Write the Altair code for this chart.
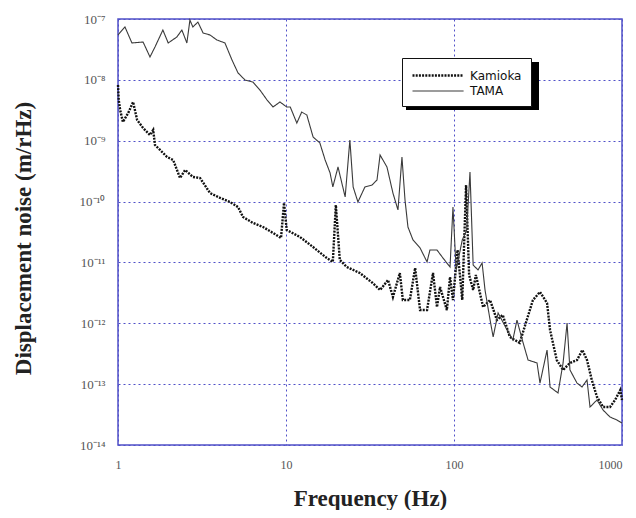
import altair as alt
import pandas as pd

# ---- data (frequency in Hz, displacement noise in m/rtHz) ----
tama_freq = [1.0, 1.10, 1.21, 1.41, 1.55, 1.66, 1.85, 1.99, 2.24, 2.40, 2.57, 2.68, 2.79, 2.99,
             3.21, 3.53, 3.88, 4.33, 4.77, 5.18, 5.70, 6.36, 7.00, 7.71, 8.37, 9.21, 10.1, 10.6,
             11.6, 12.4, 13.3, 14.5, 15.9, 17.1, 18.3, 19.0, 20.4, 22.5, 24.0, 25.1, 26.8, 29.5,
             32.5, 34.8, 36.3, 39.9, 43.3, 46.4, 49.0, 51.1, 53.2, 57.0, 62.8, 69.1, 71.9, 79.2,
             86.0, 94.7, 98.6, 103, 112, 119, 124.5, 130, 139, 147, 153, 164, 171, 183, 207, 224,
             237, 258, 276, 312, 325, 358, 373, 416, 446, 471, 490, 540, 578, 619, 645, 710, 771,
             849, 934, 1000]
tama_noise = [5.46e-8, 7.4e-8, 4.04e-8, 4.19e-8, 2.38e-8, 3.47e-8, 6.59e-8, 4.04e-8, 5.06e-8,
              6.59e-8, 4.04e-8, 9.6e-8, 7.4e-8, 8.9e-8, 5.89e-8, 5.46e-8, 4.52e-8, 4.04e-8,
              2.12e-8, 1.30e-8, 9.96e-9, 9.2e-9, 6.8e-9, 4.67e-9, 3.58e-9, 4.33e-9, 3.58e-9,
              3.58e-9, 1.95e-9, 2.96e-9, 2.65e-9, 1.15e-9, 9.2e-10, 4.82e-10, 2.95e-10, 1.74e-10,
              3.70e-10, 1.19e-10, 1.03e-9, 1.74e-10, 9.84e-11, 1.74e-10, 1.87e-10, 2.26e-10,
              5.82e-10, 3.70e-10, 1.38e-10, 7.28e-11, 5.40e-10, 1.06e-10, 3.82e-11, 2.34e-11,
              1.73e-11, 1.02e-11, 1.60e-11, 1.60e-11, 1.18e-11, 8.41e-12, 8.15e-11, 7.52e-12,
              2.34e-11, 3.41e-11, 3.06e-10, 9.08e-12, 7.52e-12, 9.8e-12, 3.52e-12, 1.13e-12,
              5.96e-13, 1.48e-12, 7.76e-13, 5.32e-13, 1.13e-12, 4.75e-13, 2.49e-13, 2.23e-13,
              1.04e-13, 3.64e-13, 8.98e-14, 7.16e-14, 2.23e-13, 1.01e-12, 1.71e-13, 1.04e-13,
              8.98e-14, 1.17e-13, 4.21e-14, 5.50e-14, 3.76e-14, 2.88e-14, 2.57e-14, 2.30e-14]

kamioka_freq = [1.0, 1.01, 1.03, 1.07, 1.15, 1.23, 1.30, 1.41, 1.55, 1.62, 1.66, 1.78, 1.96,
                2.13, 2.34, 2.51, 2.79, 3.08, 3.53, 4.05, 4.64, 5.18, 5.55, 6.36, 7.30, 8.37,
                9.34, 9.73, 10.1, 12.1, 14.5, 17.5, 19.0, 19.8, 20.9, 23.0, 27.5, 32.8, 36.3,
                40.5, 43.3, 47.6, 49.6, 54.6, 58.7, 62.8, 69.1, 75.0, 79.2, 82.6, 90.7, 94.7,
                98.6, 105, 112, 118, 123, 130, 135, 149, 164, 180, 195, 215, 246, 271, 295, 325,
                358, 373, 409, 446, 490, 540, 581, 619, 661, 710, 771, 849, 910, 977, 1000]
kamioka_noise = [8.24e-9, 4.67e-9, 3.20e-9, 2.03e-9, 2.85e-9, 4.33e-9, 2.19e-9, 1.62e-9,
                 1.24e-9, 1.50e-9, 8.5e-10, 7.05e-10, 5.40e-10, 4.82e-10, 2.44e-10, 3.30e-10,
                 2.54e-10, 2.44e-10, 1.38e-10, 1.15e-10, 9.84e-11, 8.15e-11, 5.58e-11, 4.45e-11,
                 3.82e-11, 3.05e-11, 2.52e-11, 9.5e-11, 3.41e-11, 2.62e-11, 1.79e-11, 1.18e-11,
                 1.02e-11, 8.8e-11, 1.10e-11, 8.41e-12, 6.70e-12, 4.59e-12, 3.52e-12, 5.14e-12,
                 2.70e-12, 6.70e-12, 2.41e-12, 2.41e-12, 8.1e-12, 1.65e-12, 1.65e-12, 6.70e-12,
                 1.85e-12, 3.94e-12, 1.65e-12, 5.77e-12, 2.41e-12, 1.60e-11, 2.41e-12, 1.87e-10,
                 6.22e-12, 3.52e-12, 6.22e-12, 1.85e-12, 2.41e-12, 1.13e-12, 1.37e-12, 5.96e-13,
                 4.75e-13, 1.13e-12, 2.41e-12, 3.27e-12, 2.15e-12, 7.76e-13, 2.49e-13, 1.71e-13,
                 2.23e-13, 2.49e-13, 3.64e-13, 2.49e-13, 1.17e-13, 6.15e-14, 4.21e-14, 4.21e-14,
                 5.50e-14, 8.0e-14, 5.5e-14]

series_names = ["Kamioka", "TAMA"]
x_ticks = [1, 10, 100, 1000]
y_ticks = [1e-14, 1e-13, 1e-12, 1e-11, 1e-10, 1e-9, 1e-8, 1e-7]
y_tick_labels = ["10\u207b\u00b9\u2074", "10\u207b\u00b9\u00b3", "10\u207b\u00b9\u00b2",
                 "10\u207b\u00b9\u00b9", "10\u207b\u00b9\u2070", "10\u207b\u2079",
                 "10\u207b\u2078", "10\u207b\u2077"]

rows = []
for i, (f, v) in enumerate(zip(kamioka_freq, kamioka_noise)):
    rows.append({"freq": f, "noise": v, "series": "Kamioka", "idx": i})
for i, (f, v) in enumerate(zip(tama_freq, tama_noise)):
    rows.append({"freq": f, "noise": v, "series": "TAMA", "idx": i})
df = pd.DataFrame(rows)

label_array = "[" + ",".join("'" + s + "'" for s in y_tick_labels) + "]"
y_label_expr = label_array + "[round(log(datum.value)/LN10)+14]"

BLUE = "#5050c8"
SERIF = "Liberation Serif"

# legend box shadow (decoration only, drawn under the legend)
shadow = alt.Chart(pd.DataFrame({"s": [0]})).mark_rect(color="#000000").encode(
    x=alt.value(288), x2=alt.value(421), y=alt.value(43), y2=alt.value(91)
)

lines = alt.Chart(df).mark_line(interpolate="linear").encode(
    x=alt.X("freq:Q",
            scale=alt.Scale(type="log", domain=[1, 1000], nice=False),
            axis=alt.Axis(values=x_ticks, format="d", title="Frequency (Hz)",
                          titleFont=SERIF, titleFontSize=23, titleFontWeight="bold",
                          titleColor="#222", titleY=65, titleBaseline="bottom",
                          labelFont=SERIF, labelFontSize=12, labelColor="#555",
                          labelPadding=14, ticks=False, domain=False,
                          labelAlign={"expr": "datum.value >= 1000 ? 'right' : 'center'"},
                          grid=True, gridColor=BLUE, gridDash=[2, 3], gridWidth=1,
                          labelFlush=False)),
    y=alt.Y("noise:Q",
            scale=alt.Scale(type="log", domain=[1e-14, 1e-7], nice=False),
            axis=alt.Axis(values=y_ticks, labelExpr=y_label_expr,
                          title="Displacement noise (m/rHz)",
                          titleFont=SERIF, titleFontSize=23, titleFontWeight="bold",
                          titleColor="#222", titleX=-95, titleY=219,
                          titleAngle=270, titleAlign="center", titleBaseline="middle",
                          labelFont=SERIF, labelFontSize=13, labelColor="#555",
                          labelPadding=13, ticks=False, domain=False,
                          grid=True, gridColor=BLUE, gridDash=[2, 3], gridWidth=1,
                          labelFlush=False)),
    color=alt.Color("series:N",
                    scale=alt.Scale(domain=series_names, range=["#111111", "#3a3a3a"]),
                    legend=alt.Legend(title=None, orient="none", legendX=284, legendY=39,
                                      symbolType="M-1,0H6.3", symbolSize=196,
                                      symbolStrokeWidth=2,
                                      labelFont="DejaVu Sans", labelFontSize=12,
                                      labelColor="#111", strokeColor="#111",
                                      fillColor="white", padding=9, rowPadding=1,
                                      labelOffset=42)),
    strokeDash=alt.StrokeDash("series:N",
                              scale=alt.Scale(domain=series_names, range=[[2, 1.2], [1, 0]]),
                              legend=None),
    strokeWidth=alt.StrokeWidth("series:N",
                                scale=alt.Scale(domain=series_names, range=[2.4, 1.1]),
                                legend=None),
    order="idx:Q",
)

chart = alt.layer(shadow, lines).properties(
    width=504, height=426,
    autosize=alt.AutoSizeParams(type="none"),
    padding={"left": 110, "top": 11, "right": 6, "bottom": 65},
    background="white",
).configure_view(stroke=BLUE, strokeWidth=1.5)

chart.save("out.html", embed_options={"renderer": "svg", "actions": False})
